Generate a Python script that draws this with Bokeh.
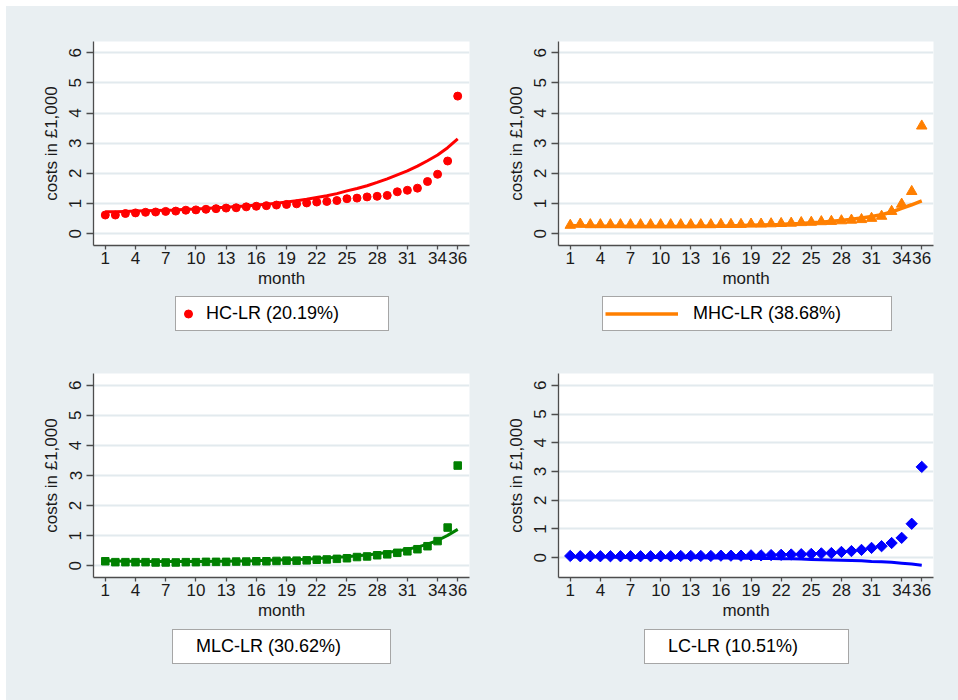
import math
from bokeh.plotting import figure
from bokeh.models import Range1d, FixedTicker, Legend, LegendItem
from bokeh.layouts import column, row
from bokeh.embed import file_html
from bokeh.resources import INLINE

months = list(range(1, 37))
x_ticks = [1, 4, 7, 10, 13, 16, 19, 22, 25, 28, 31, 34, 36]
y_ticks = [0, 1, 2, 3, 4, 5, 6]

hc_obs = [0.62, 0.62, 0.67, 0.69, 0.71, 0.72, 0.74, 0.75, 0.78, 0.79, 0.81, 0.83,
          0.85, 0.86, 0.89, 0.91, 0.93, 0.95, 0.97, 0.99, 1.02, 1.05, 1.07, 1.10,
          1.16, 1.18, 1.22, 1.24, 1.27, 1.39, 1.44, 1.51, 1.73, 1.97, 2.41, 4.56]
hc_fit = [0.73, 0.73, 0.74, 0.75, 0.76, 0.77, 0.78, 0.79, 0.81, 0.82, 0.84, 0.86,
          0.88, 0.90, 0.92, 0.95, 0.98, 1.01, 1.05, 1.09, 1.14, 1.20, 1.26, 1.33,
          1.42, 1.50, 1.59, 1.70, 1.82, 1.95, 2.08, 2.24, 2.42, 2.61, 2.85, 3.14]

mhc_obs = [0.28, 0.32, 0.30, 0.30, 0.30, 0.30, 0.30, 0.30, 0.30, 0.30, 0.30, 0.30,
           0.30, 0.30, 0.30, 0.31, 0.31, 0.31, 0.32, 0.32, 0.33, 0.34, 0.35, 0.37,
           0.38, 0.40, 0.41, 0.43, 0.45, 0.47, 0.51, 0.58, 0.74, 0.98, 1.40, 3.57]
mhc_fit = [0.27, 0.26, 0.26, 0.25, 0.25, 0.25, 0.24, 0.24, 0.24, 0.24, 0.24, 0.24,
           0.24, 0.25, 0.25, 0.25, 0.26, 0.27, 0.28, 0.29, 0.30, 0.31, 0.33, 0.34,
           0.36, 0.38, 0.41, 0.44, 0.48, 0.52, 0.57, 0.63, 0.72, 0.84, 0.96, 1.09]

mlc_obs = [0.15, 0.12, 0.12, 0.12, 0.12, 0.11, 0.11, 0.11, 0.12, 0.12, 0.13, 0.13,
           0.13, 0.14, 0.14, 0.15, 0.15, 0.16, 0.17, 0.17, 0.18, 0.20, 0.21, 0.23,
           0.25, 0.29, 0.31, 0.35, 0.38, 0.43, 0.48, 0.55, 0.65, 0.82, 1.27, 3.33]
mlc_fit = [0.17, 0.16, 0.15, 0.15, 0.14, 0.14, 0.14, 0.14, 0.14, 0.14, 0.14, 0.15,
           0.15, 0.16, 0.16, 0.17, 0.18, 0.19, 0.20, 0.21, 0.22, 0.24, 0.26, 0.28,
           0.30, 0.33, 0.36, 0.40, 0.44, 0.49, 0.55, 0.62, 0.72, 0.84, 1.01, 1.21]

lc_obs = [0.06, 0.05, 0.05, 0.05, 0.05, 0.05, 0.05, 0.05, 0.05, 0.05, 0.05, 0.06,
          0.06, 0.06, 0.06, 0.07, 0.07, 0.07, 0.08, 0.08, 0.09, 0.10, 0.11, 0.12,
          0.13, 0.15, 0.16, 0.20, 0.23, 0.27, 0.34, 0.40, 0.51, 0.69, 1.18, 3.16]
lc_fit = [0.02, 0.02, 0.02, 0.02, 0.02, 0.01, 0.01, 0.01, 0.01, 0.01, 0.00, 0.00,
          0.00, 0.00, -0.01, -0.01, -0.01, -0.02, -0.02, -0.03, -0.03, -0.04, -0.04, -0.05,
          -0.06, -0.07, -0.08, -0.09, -0.10, -0.11, -0.13, -0.14, -0.16, -0.19, -0.22, -0.26]

labels = ["HC-LR (20.19%)", "MHC-LR (38.68%)", "MLC-LR (30.62%)", "LC-LR (10.51%)"]

BG = "#e9eff2"
GRID = "#e2eaee"
AXC = "#4d4d4d"
TXT = "#1a1a1a"
FONT = "Liberation Sans"


def make_chart(obs, fit, marker, msize, angle, color, lw,
               left, right, top, bottom, width, height, y0, y1):
    p = figure(width=width, height=height,
               x_range=Range1d(-0.17, 37.17), y_range=Range1d(y0, y1),
               output_backend="svg", toolbar_location=None,
               min_border_left=left, min_border_right=right,
               min_border_top=top, min_border_bottom=bottom,
               background_fill_color="white", border_fill_color=BG,
               outline_line_color=None)
    p.xaxis.ticker = FixedTicker(ticks=x_ticks)
    p.yaxis.ticker = FixedTicker(ticks=y_ticks)
    p.xgrid.visible = False
    p.ygrid.grid_line_color = GRID
    p.ygrid.grid_line_width = 2
    p.xaxis.axis_label = "month"
    p.yaxis.axis_label = "costs in £1,000"
    for ax in (p.xaxis[0], p.yaxis[0]):
        ax.axis_line_color = AXC
        ax.axis_line_width = 1.3
        ax.major_tick_line_color = AXC
        ax.major_tick_line_width = 1.3
        ax.major_tick_in = 0
        ax.minor_tick_line_color = None
        ax.major_label_text_font = FONT
        ax.major_label_text_font_size = "17px"
        ax.major_label_text_color = TXT
        ax.axis_label_text_font = FONT
        ax.axis_label_text_font_size = "17px"
        ax.axis_label_text_font_style = "normal"
        ax.axis_label_text_color = TXT
    p.xaxis.major_tick_out = 4
    p.xaxis.major_label_standoff = 2
    p.xaxis.axis_label_standoff = 2
    p.yaxis.major_tick_out = 7
    p.yaxis.major_label_standoff = 5
    p.yaxis.axis_label_standoff = 6
    p.yaxis.major_label_orientation = "parallel"

    p.scatter(months, obs, marker=marker, size=msize, angle=angle,
              fill_color=color, line_color=color)
    p.line(months, fit, line_color=color, line_width=lw)
    return p


def make_legend(label, mode, obs, fit, color, lw, width, height,
                gw, standoff, lab_w, leg_x, leg_y):
    # the series are plotted again here only so the legend can show their style;
    # the ranges keep them out of view
    f = figure(width=width, height=height,
               x_range=Range1d(100, 101), y_range=Range1d(100, 101),
               x_axis_type=None, y_axis_type=None,
               output_backend="svg", toolbar_location=None,
               min_border_left=0, min_border_right=0,
               min_border_top=0, min_border_bottom=0,
               background_fill_color=BG, border_fill_color=BG,
               outline_line_color=None)
    if mode == "marker":
        rend = f.scatter(months, obs, marker="circle", size=8,
                         fill_color=color, line_color=color)
    elif mode == "line":
        rend = f.line(months, fit, line_color=color, line_width=lw)
    else:
        rend = f.scatter(x=[], y=[], size=0, fill_alpha=0, line_alpha=0)
    legend = Legend(items=[LegendItem(label=label, renderers=[rend])],
                    location=(leg_x, leg_y), orientation="vertical",
                    padding=2, margin=0, spacing=0,
                    glyph_width=gw, glyph_height=29, label_height=29,
                    label_width=lab_w, label_standoff=standoff,
                    label_text_font=FONT, label_text_font_size="18px",
                    label_text_color="black", label_text_baseline="middle",
                    border_line_color=AXC, border_line_width=1.5,
                    background_fill_color="white", background_fill_alpha=1.0)
    f.add_layout(legend, "center")
    return f


c1 = make_chart(hc_obs, hc_fit, "circle", 8, 0, "#ff0000", 3,
                87, 11, 35, 44, 474, 284, -0.39, 6.37)
c2 = make_chart(mhc_obs, mhc_fit, "triangle", 10.5, 0, "#ff7f00", 3.5,
                78, 25, 35, 44, 478, 284, -0.39, 6.37)
c3 = make_chart(mlc_obs, mlc_fit, "square", 7.5, 0, "#008000", 3,
                87, 11, 23, 43, 474, 272, -0.39, 6.39)
c4 = make_chart(lc_obs, lc_fit, "square", 8, math.pi / 4, "#0000ff", 3,
                78, 25, 23, 43, 478, 272, -0.69, 6.41)

# legend frames line up with the chart frames above them
l1 = make_legend(labels[0], "marker", hc_obs, hc_fit, "#ff0000", 3, 474, 60, 20, 8, 180, 82, 19)
l2 = make_legend(labels[1], "line", mhc_obs, mhc_fit, "#ff7f00", 3.5, 478, 60, 73, 15, 196, 44, 19)
l3 = make_legend(labels[2], "none", mlc_obs, mlc_fit, "#008000", 3, 474, 78, 16, 5, 192, 79, 36)
l4 = make_legend(labels[3], "none", lc_obs, lc_fit, "#0000ff", 3, 478, 78, 16, 5, 178, 86, 36)

layout = column(
    row(column(c1, l1, spacing=0), column(c2, l2, spacing=0), spacing=0),
    row(column(c3, l3, spacing=0), column(c4, l4, spacing=0), spacing=0),
    spacing=0, margin=(6, 0, 0, 6), styles={"background-color": BG},
)

open("out.html", "w").write(file_html(layout, INLINE))
